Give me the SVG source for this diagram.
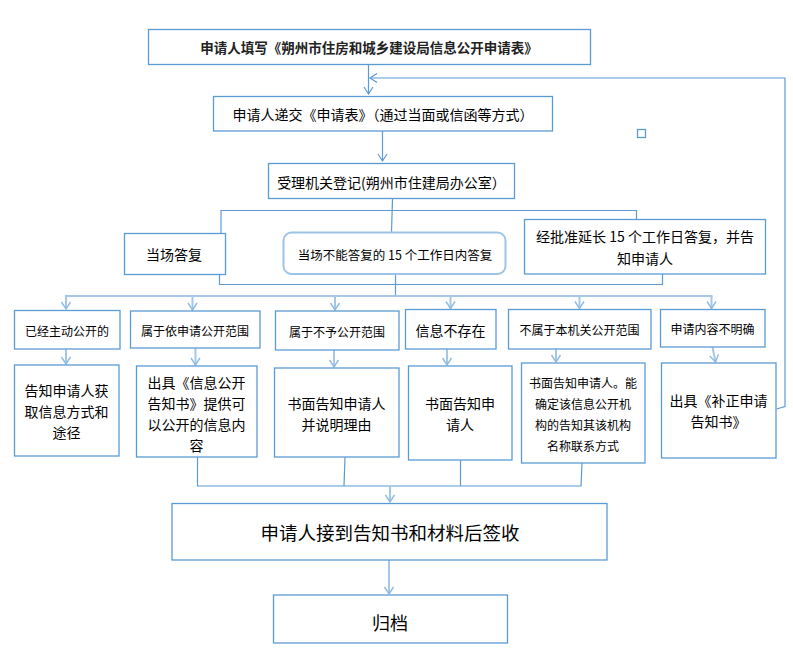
<svg xmlns="http://www.w3.org/2000/svg" width="793" height="664" viewBox="0 0 793 664">
<style>
.b{fill:#fff;stroke:#5b9bd5;stroke-width:1.3}
.rb{fill:#fff;stroke:#9dc3e6;stroke-width:2}
.c{fill:none;stroke:#5b9bd5;stroke-width:1.2}
.cl{fill:none;stroke:#a5c8e8;stroke-width:2}
text{font-family:"Noto Sans CJK SC","Noto Sans",sans-serif;fill:#000;text-anchor:middle;dominant-baseline:central}
.t12{font-size:12px}
.t14{font-size:14px}
.t18{font-size:18.5px}
.tb{font-size:13.5px;font-weight:bold;fill:#222}
</style>
<defs>
<marker id="ad" viewBox="-8 -6 10 12" markerWidth="10" markerHeight="12" refX="0" refY="0" orient="auto" markerUnits="userSpaceOnUse">
<path d="M-7,-4.5 L0,0 L-7,4.5" fill="none" stroke="#5b9bd5" stroke-width="1.2"/>
</marker>
<marker id="al" viewBox="-8 -6 10 12" markerWidth="10" markerHeight="12" refX="0" refY="0" orient="auto" markerUnits="userSpaceOnUse">
<path d="M-7,-4.5 L0,0 L-7,4.5" fill="none" stroke="#8fbbe3" stroke-width="1.4"/>
</marker>
</defs>
<rect width="793" height="664" fill="#fff"/>

<g id="connectors">
<line class="c" x1="368.5" y1="64.5" x2="368.5" y2="94" marker-end="url(#ad)"/>
<path class="c" d="M776.5,409 L785,406.5 L785,78 L370,78" marker-end="url(#ad)"/>
<line class="c" x1="382.5" y1="131" x2="382.5" y2="161" marker-end="url(#ad)"/>
<line class="c" x1="392.5" y1="198.5" x2="391.5" y2="232.5"/>
<path class="c" d="M221,233.5 L221,210.5 L636.5,210.5 L636.5,219.5"/>
<path class="c" d="M219.5,273 L219.5,284.5 L662.5,284.5 L662.5,274"/>
<line class="c" x1="395.5" y1="274" x2="395.5" y2="296"/>
<line class="cl" x1="65" y1="296" x2="712.5" y2="296"/>
<line class="cl" x1="66" y1="296" x2="66" y2="309" marker-end="url(#al)"/>
<line class="cl" x1="192.5" y1="296" x2="192.5" y2="310" marker-end="url(#al)"/>
<line class="cl" x1="335" y1="296" x2="335" y2="310" marker-end="url(#al)"/>
<line class="cl" x1="450.5" y1="296" x2="450.5" y2="308.5" marker-end="url(#al)"/>
<line class="cl" x1="579.5" y1="296" x2="579.5" y2="308.5" marker-end="url(#al)"/>
<line class="cl" x1="711.5" y1="296" x2="711.5" y2="308.5" marker-end="url(#al)"/>
<line class="cl" x1="66" y1="349" x2="66" y2="364" marker-end="url(#al)"/>
<line class="cl" x1="195.5" y1="348" x2="195.5" y2="365" marker-end="url(#al)"/>
<line class="cl" x1="334" y1="350" x2="334" y2="367" marker-end="url(#al)"/>
<line class="cl" x1="447" y1="349" x2="447" y2="365" marker-end="url(#al)"/>
<line class="cl" x1="556" y1="349" x2="556" y2="362" marker-end="url(#al)"/>
<line class="cl" x1="712.5" y1="347" x2="715.5" y2="362" marker-end="url(#al)"/>
<path class="c" d="M197.5,457 L197.5,486 L581,486 L582,463"/>
<line class="c" x1="345" y1="457" x2="344" y2="486"/>
<line class="c" x1="460.5" y1="460" x2="460.5" y2="486"/>
<line class="cl" x1="390" y1="486" x2="390" y2="502" marker-end="url(#al)"/>
<line class="cl" x1="389" y1="560" x2="389" y2="594" marker-end="url(#al)"/>
</g>

<g id="n-fill">
<rect class="b" x="148.5" y="29.5" width="442" height="35"/>
<text class="tb" x="369" y="47">申请人填写《朔州市住房和城乡建设局信息公开申请表》</text>
</g>
<g id="n-submit">
<rect class="b" x="213.5" y="96.5" width="339" height="34.5"/>
<text class="t14" x="383" y="114">申请人递交《申请表》（通过当面或信函等方式）</text>
</g>
<g id="n-mark">
<rect class="b" x="637.5" y="129.5" width="8" height="8"/>
</g>
<g id="n-register">
<rect class="b" x="268.5" y="163.5" width="246" height="35"/>
<text class="t14" x="391.5" y="182">受理机关登记(朔州市住建局办公室）</text>
</g>
<g id="n-onsite">
<rect class="b" x="124.5" y="233.5" width="101" height="41"/>
<text class="t14" x="174" y="254">当场答复</text>
</g>
<g id="n-15days">
<rect class="rb" x="283.5" y="232.5" width="222" height="41.5" rx="8"/>
<text x="395" y="254" style="font-size:12.5px">当场不能答复的 15 个工作日内答复</text>
</g>
<g id="n-extend">
<rect class="b" x="524.5" y="219.5" width="241" height="54.5"/>
<text class="t14" x="645" y="236">经批准延长 15 个工作日答复，并告</text>
<text class="t14" x="645" y="257.5">知申请人</text>
</g>

<g id="n-r1-1">
<rect class="b" x="14.5" y="310.5" width="105.5" height="38.5"/>
<text class="t12" x="67" y="330.5">已经主动公开的</text>
</g>
<g id="n-r1-2">
<rect class="b" x="130.5" y="311" width="129.5" height="37"/>
<text class="t12" x="195" y="330">属于依申请公开范围</text>
</g>
<g id="n-r1-3">
<rect class="b" x="275.5" y="311" width="123.5" height="39"/>
<text class="t12" x="337" y="331.5">属于不予公开范围</text>
</g>
<g id="n-r1-4">
<rect class="b" x="405.5" y="309.5" width="90.5" height="39.5"/>
<text class="t14" x="450.5" y="329.5">信息不存在</text>
</g>
<g id="n-r1-5">
<rect class="b" x="508.5" y="309.5" width="142.5" height="39.5"/>
<text class="t12" x="579.5" y="329">不属于本机关公开范围</text>
</g>
<g id="n-r1-6">
<rect class="b" x="660.5" y="309.5" width="104.5" height="37.5"/>
<text class="t12" x="712.5" y="328.5">申请内容不明确</text>
</g>

<g id="n-r2-1">
<rect class="b" x="14.5" y="365" width="104.5" height="91"/>
<text class="t14" x="66.5" y="389.5">告知申请人获</text>
<text class="t14" x="66.5" y="410.5">取信息方式和</text>
<text class="t14" x="66.5" y="431.5">途径</text>
</g>
<g id="n-r2-2">
<rect class="b" x="136.5" y="366" width="120.5" height="91"/>
<text class="t14" x="196.5" y="381.5">出具《信息公开</text>
<text class="t14" x="196.5" y="402.7">告知书》提供可</text>
<text class="t14" x="196.5" y="424">以公开的信息内</text>
<text class="t14" x="196.5" y="445">容</text>
</g>
<g id="n-r2-3">
<rect class="b" x="274.5" y="368" width="124.5" height="89"/>
<text class="t14" x="336.5" y="402.7">书面告知申请人</text>
<text class="t14" x="336.5" y="423.5">并说明理由</text>
</g>
<g id="n-r2-4">
<rect class="b" x="408.5" y="366" width="103.5" height="94"/>
<text class="t14" x="460" y="402.7">书面告知申</text>
<text class="t14" x="460" y="423.5">请人</text>
</g>
<g id="n-r2-5">
<rect class="b" x="521.5" y="363" width="123.5" height="100"/>
<text class="t12" x="583" y="382.3">书面告知申请人。能</text>
<text class="t12" x="583" y="403.3">确定该信息公开机</text>
<text class="t12" x="583" y="424.3">构的告知其该机构</text>
<text class="t12" x="583" y="445">名称联系方式</text>
</g>
<g id="n-r2-6">
<rect class="b" x="661.5" y="363" width="114.5" height="95"/>
<text class="t14" x="718.5" y="400">出具《补正申请</text>
<text class="t14" x="718.5" y="421">告知书》</text>
</g>

<g id="n-sign">
<rect class="b" x="172" y="503.5" width="435" height="56.5"/>
<text class="t18" x="390" y="532">申请人接到告知书和材料后签收</text>
</g>
<g id="n-archive">
<rect class="b" x="273.5" y="595" width="234" height="48"/>
<text x="390" y="621.5" style="font-size:18px">归档</text>
</g>
</svg>
